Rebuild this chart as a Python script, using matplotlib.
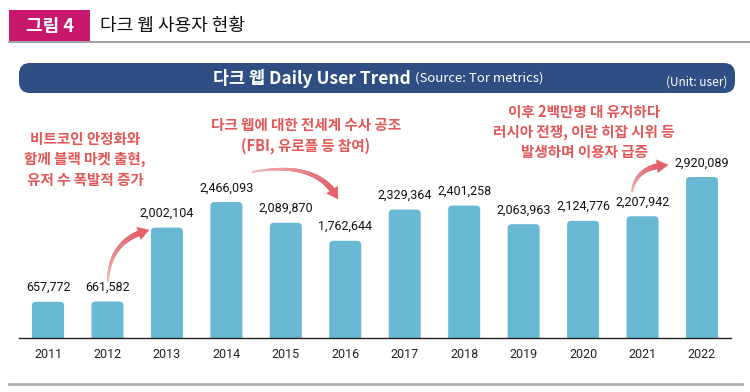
import matplotlib
matplotlib.use("Agg")
import numpy as np
import matplotlib.pyplot as plt
from matplotlib.patches import FancyBboxPatch, Rectangle, Polygon
from matplotlib.collections import PolyCollection
from matplotlib.colors import to_rgb

# ---- data ----
years = ["2011", "2012", "2013", "2014", "2015", "2016",
         "2017", "2018", "2019", "2020", "2021", "2022"]
users = [657772, 661582, 2002104, 2466093, 2089870, 1762644,
         2329364, 2401258, 2063963, 2124776, 2207942, 2920089]

fig_label = "그림 4"
fig_title = "다크 웹 사용자 현황"
banner_main = "다크 웹 Daily User Trend"
banner_src = "(Source: Tor metrics)"
unit_text = "(Unit: user)"
note1 = ["비트코인 안정화와", "함께 블랙 마켓 출현,", "유저 수 폭발적 증가"]
note2 = ["다크 웹에 대한 전세계 수사 공조", "(FBI, 유로플 등 참여)"]
note3 = ["이후 2백만명 대 유지하다", "러시아 전쟁, 이란 히잡 시위 등", "발생하며 이용자 급증"]

KR = ["Noto Sans CJK KR", "DejaVu Sans"]
NUM = ["Roboto", "DejaVu Sans"]
BAR_C = "#69b9d5"
RED = "#e45757"

W, H = 750, 392
fig = plt.figure(figsize=(W / 100, H / 100), dpi=100)

# background / decoration axes in pixel coordinates
bg = fig.add_axes([0, 0, 1, 1])
bg.set_xlim(0, W)
bg.set_ylim(H, 0)
bg.axis("off")

# header
bg.add_patch(Rectangle((9, 10), 81, 31, color="#c8186e", lw=0))
bg.text(49.5, 26, fig_label, family=KR, fontsize=13, fontweight="bold",
        color="white", ha="center", va="center")
bg.text(100, 25.5, fig_title, family=KR, fontsize=13, color="#111111",
        ha="left", va="center")
bg.plot([9, 750], [41.5, 41.5], color="#9a9a9a", lw=1.3)

# banner
bg.add_patch(FancyBboxPatch((19, 63), 716, 30,
                            boxstyle="round,pad=0,rounding_size=11",
                            fc="#2e4e84", ec="none"))
t1 = bg.text(213, 78, banner_main, family=KR, fontsize=12.5, fontweight="bold",
             color="white", ha="left", va="center")
bg.annotate(banner_src, xy=(1, 0.5), xycoords=t1, xytext=(3, 0),
            textcoords="offset points", family=KR, fontsize=9.5,
            color="white", ha="left", va="center")
bg.text(727, 82, unit_text, family=KR, fontsize=8.5, color="white",
        ha="right", va="center")

# bottom gray line
bg.plot([9, 742], [383.5, 383.5], color="#b0b0b0", lw=2)

# annotations
NOTE_KW = dict(family=KR, fontsize=10.5, color=RED, fontweight="bold",
               ha="center", va="center")
for i, s in enumerate(note1):
    bg.text(85, 138.5 + 20.8 * i, s, **NOTE_KW)
for i, s in enumerate(note2):
    bg.text(306, 125 + 21 * i, s, **NOTE_KW)
for i, s in enumerate(note3):
    bg.text(584, 112 + 20 * i, s, **NOTE_KW)


# tapered, gradient curved arrows (pixel coords)
def curved_arrow(p0, c, p1, w0=1.2, w1=5.0, head_len=11, head_w=13,
                 c0="#f5c4c6", c1="#e2616a"):
    p0, c, p1 = map(np.asarray, (p0, c, p1))
    t = np.linspace(0, 1, 400)
    B = ((1 - t)[:, None] ** 2) * p0 + (2 * (1 - t) * t)[:, None] * c + (t[:, None] ** 2) * p1
    d = np.linalg.norm(B - p1, axis=1)
    k = np.argmax(d < head_len)
    pts = B[:k + 1]
    n = len(pts)
    tang = np.gradient(pts, axis=0)
    tang /= np.linalg.norm(tang, axis=1)[:, None]
    nrm = np.stack([-tang[:, 1], tang[:, 0]], axis=1)
    s = np.linspace(0, 1, n)
    wid = w0 + (w1 - w0) * s
    L = pts + nrm * (wid / 2)[:, None]
    R = pts - nrm * (wid / 2)[:, None]
    ca, cb = np.array(to_rgb(c0)), np.array(to_rgb(c1))
    polys, cols = [], []
    for i in range(n - 1):
        polys.append([L[i], L[i + 1], R[i + 1], R[i]])
        cols.append(ca + (cb - ca) * s[i] ** 0.7)
    bg.add_collection(PolyCollection(polys, facecolors=cols, edgecolors=cols, linewidths=0.3))
    base = pts[-1]
    dv = p1 - base
    dv = dv / np.linalg.norm(dv)
    nv = np.array([-dv[1], dv[0]])
    tri = [base + nv * head_w / 2, p1, base - nv * head_w / 2]
    bg.add_patch(Polygon(tri, closed=True, fc=c1, ec=c1, lw=0.3))


curved_arrow((108, 282), (109, 240), (149, 230))
curved_arrow((252, 172), (318, 160), (338, 199))
curved_arrow((632, 192), (636, 166), (668, 165))

# ---- bar chart ----
x0, x1 = 19, 731
base, top = 338, 100
ax = fig.add_axes([x0 / W, (H - base) / H, (x1 - x0) / W, (base - top) / H])
ax.patch.set_alpha(0)
xs = list(range(len(years)))
ymax = users[-1] * (base - top) / 161.0
ax.set_ylim(0, ymax)
ax.set_xlim(-0.488, 11.488)
bw = 32 / 59.45
bars = ax.bar(xs, users, width=bw, color=BAR_C)

# rounded top corners (bottom corners extend below the axis and are clipped)
px_x = 11.976 / (x1 - x0)
px_y = ymax / (base - top)
r = 4 * px_x
asp = px_y / px_x
ext = 8 * px_y
for rect in bars:
    rect.set_visible(False)
    bx, bwid, bh = rect.get_x(), rect.get_width(), rect.get_height()
    ax.add_patch(FancyBboxPatch((bx, -ext), bwid, bh + ext,
                                boxstyle=f"round,pad=0,rounding_size={r}",
                                mutation_aspect=asp, fc=BAR_C, ec="none"))

for xi, v in zip(xs, users):
    ax.annotate(f"{v:,}", (xi, v), xytext=(0, 5.5), textcoords="offset points",
                ha="center", va="bottom", family=NUM, fontsize=9, color="#111111")

ax.set_xticks(xs)
ax.set_xticklabels(years, family=NUM, fontsize=9, color="#222222")
ax.tick_params(axis="x", length=0, pad=7)
ax.set_yticks([])
for s in ["left", "right", "top"]:
    ax.spines[s].set_visible(False)
ax.spines["bottom"].set_color("#222222")
ax.spines["bottom"].set_linewidth(1)
ax.spines["bottom"].set_zorder(5)

fig.savefig("out.png", dpi=100)
